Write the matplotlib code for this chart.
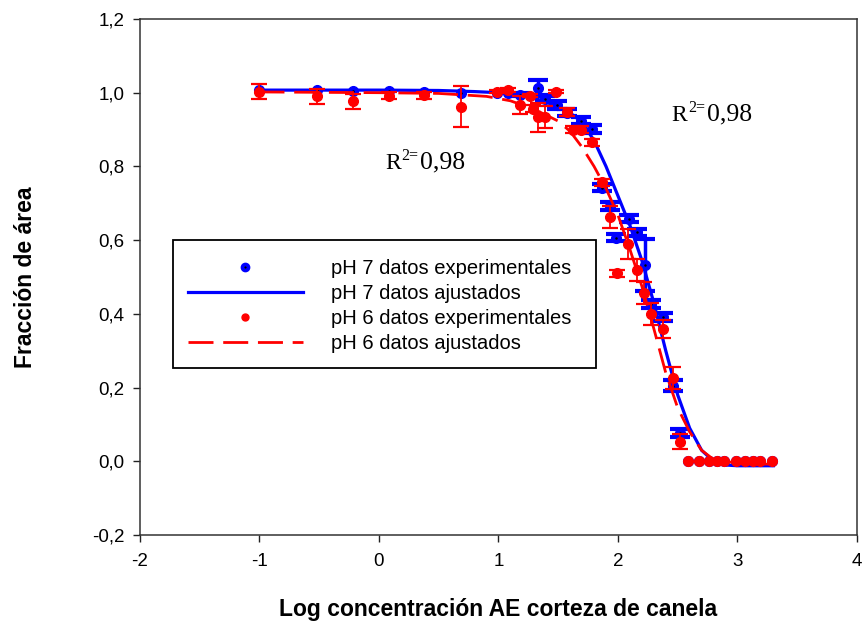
import matplotlib
matplotlib.use("Agg")
import matplotlib.pyplot as plt
from matplotlib.lines import Line2D
from matplotlib.patches import Rectangle
from matplotlib.legend_handler import HandlerTuple

plt.rcParams['font.family'] = ['Liberation Sans', 'DejaVu Sans']

# ---- data: pH 7 experimental ----
ph7_x = [-1.0, -0.52, -0.22, 0.08, 0.38, 0.69, 0.99, 1.08, 1.18, 1.33, 1.39, 1.49,
         1.57, 1.69, 1.78, 1.87, 1.93, 1.98, 2.09, 2.16, 2.23, 2.28, 2.38, 2.46, 2.52,
         2.59, 2.68, 2.76, 2.83, 2.89, 2.99, 3.06, 3.13, 3.19, 3.29]
ph7_y = [1.006, 1.006, 1.005, 1.005, 1.003, 1.0, 1.0, 1.0, 0.995, 1.014, 0.983, 0.967,
         0.946, 0.924, 0.902, 0.742, 0.693, 0.607, 0.658, 0.621, 0.533, 0.427, 0.392, 0.205, 0.077,
         0.0, 0.0, 0.0, 0.0, 0.0, 0.0, 0.0, 0.0, 0.0, 0.0]
ph7_err = [0.0, 0.0, 0.0, 0.0, 0.0, 0.0, 0.0, 0.0, 0.005, 0.02, 0.008, 0.01,
           0.01, 0.01, 0.01, 0.01, 0.01, 0.01, 0.01, 0.01, 0.07, 0.01, 0.01, 0.015, 0.01,
           0.0, 0.0, 0.0, 0.0, 0.0, 0.0, 0.0, 0.0, 0.0, 0.0]

# ---- data: pH 6 experimental ----
ph6_x = [-1.0, -0.52, -0.22, 0.08, 0.38, 0.69, 0.99, 1.08, 1.18, 1.26, 1.29, 1.33, 1.39,
         1.48, 1.57, 1.62, 1.69, 1.78, 1.87, 1.93, 1.99, 2.08, 2.16, 2.22, 2.28, 2.38, 2.46, 2.52,
         2.59, 2.68, 2.76, 2.83, 2.89, 2.99, 3.06, 3.13, 3.19, 3.29]
ph6_y = [1.003, 0.99, 0.977, 0.992, 0.993, 0.962, 1.003, 1.007, 0.967, 0.992, 0.957, 0.933, 0.933,
         1.003, 0.948, 0.90, 0.90, 0.865, 0.757, 0.662, 0.51, 0.59, 0.52, 0.457, 0.40, 0.359, 0.226, 0.053,
         0.0, 0.0, 0.0, 0.0, 0.0, 0.0, 0.0, 0.0, 0.0, 0.0]
ph6_err = [0.02, 0.02, 0.02, 0.01, 0.01, 0.055, 0.005, 0.005, 0.025, 0.005, 0.01, 0.04, 0.03,
           0.005, 0.01, 0.01, 0.01, 0.01, 0.01, 0.03, 0.01, 0.04, 0.03, 0.03, 0.03, 0.025, 0.03, 0.02,
           0.0, 0.0, 0.0, 0.0, 0.0, 0.0, 0.0, 0.0, 0.0, 0.0]

# ---- fitted curves ----
fit7_x = [-1.0, 0.0, 0.5, 0.8, 1.0, 1.2, 1.35, 1.5, 1.6, 1.7, 1.8, 1.9, 2.0, 2.1, 2.2,
          2.3, 2.4, 2.5, 2.6, 2.7, 2.8, 2.9, 3.0, 3.3]
fit7_y = [1.007, 1.007, 1.006, 1.003, 1.0, 0.993, 0.98, 0.962, 0.945, 0.92, 0.87, 0.80, 0.72, 0.64, 0.545,
          0.43, 0.30, 0.18, 0.09, 0.03, 0.0, -0.01, -0.012, -0.012]
fit6_x = [-1.0, 0.0, 0.5, 0.9, 1.1, 1.3, 1.5, 1.6, 1.7, 1.8, 1.9, 2.0, 2.1, 2.2, 2.3,
          2.4, 2.5, 2.6, 2.7, 2.8, 3.0, 3.3]
fit6_y = [1.002, 1.0, 0.998, 0.99, 0.978, 0.955, 0.923, 0.895, 0.852, 0.80, 0.74, 0.668, 0.575, 0.475, 0.36,
          0.24, 0.145, 0.08, 0.03, 0.005, -0.005, -0.008]

xticks = [-2, -1, 0, 1, 2, 3, 4]
yticks = [-0.2, 0.0, 0.2, 0.4, 0.6, 0.8, 1.0, 1.2]
ytick_labels = ['-0,2', '0,0', '0,2', '0,4', '0,6', '0,8', '1,0', '1,2']
legend_labels = ['pH 7 datos experimentales', 'pH 7 datos ajustados',
                 'pH 6 datos experimentales', 'pH 6 datos ajustados']
r2_text = '0,98'
r2_pos = [(0.05, 0.794), (2.45, 0.924)]

BLUE = '#0000ff'
RED = '#ff0000'

fig = plt.figure(figsize=(8.63, 6.28), dpi=100)
ax = fig.add_axes([0.1622, 0.148, 0.8308, 0.8218])

# pH 7
e7 = [(x, y, e) for x, y, e in zip(ph7_x, ph7_y, ph7_err) if e > 0]
ax.errorbar([a[0] for a in e7], [a[1] for a in e7], yerr=[a[2] for a in e7], fmt='none',
            ecolor=BLUE, elinewidth=2.5, capsize=7, capthick=3, zorder=2)
ax.plot(fit7_x, fit7_y, color=BLUE, lw=2.3, zorder=3)
ax.plot(ph7_x, ph7_y, 'o', color=BLUE, ms=7, mec=BLUE, zorder=4)
ax.plot(ph7_x, ph7_y, 'o', color='black', ms=1.8, mew=0, zorder=4.1)

# pH 6
e6 = [(x, y, e) for x, y, e in zip(ph6_x, ph6_y, ph6_err) if e > 0]
ax.errorbar([a[0] for a in e6], [a[1] for a in e6], yerr=[a[2] for a in e6], fmt='none',
            ecolor=RED, elinewidth=1.3, capsize=6, capthick=1.6, zorder=5)
ax.plot(fit6_x, fit6_y, color=RED, lw=2.0, dashes=(9, 3.5), zorder=6)
ax.plot(ph6_x, ph6_y, 'o', color=RED, ms=7, mec=RED, zorder=7)

ax.set_xlim(-2, 4)
ax.set_ylim(-0.2, 1.2)
ax.set_xticks(xticks)
ax.set_xticklabels([str(t) for t in xticks])
ax.set_yticks(yticks)
ax.set_yticklabels(ytick_labels)
ax.tick_params(direction='out', length=5, width=1, labelsize=13.5, colors='#222222',
               labelcolor='black', pad=6)
ax.tick_params(axis='x', pad=8)
for s in ax.spines.values():
    s.set_linewidth(1.1)
    s.set_color('#333333')

ax.set_xlabel('Log concentración AE corteza de canela', fontsize=16.5, fontweight='bold', labelpad=20)
ax.set_ylabel('Fracción de área', fontsize=16.5, fontweight='bold', labelpad=40)

for (tx, ty) in r2_pos:
    ax.annotate('R', xy=(tx, ty), xytext=(0, 0), textcoords='offset points',
                fontsize=17, family='Liberation Serif', va='baseline', ha='left')
    ax.annotate('2=', xy=(tx, ty), xytext=(12, 6.5), textcoords='offset points',
                fontsize=11.5, family='Liberation Serif', va='baseline', ha='left')
    ax.annotate(r2_text, xy=(tx, ty), xytext=(25.5, 0), textcoords='offset points',
                fontsize=18.5, family='Liberation Serif', va='baseline', ha='left')

# legend frame (box drawn separately for asymmetric padding)
frame = Rectangle((0.046, 0.3238), 0.590, 0.248, transform=ax.transAxes,
                  facecolor='white', edgecolor='black', lw=1.3, zorder=8)
ax.add_patch(frame)

h1 = (Line2D([], [], ls='none', marker='o', color=BLUE, ms=6),
      Line2D([], [], ls='none', marker='o', color='black', ms=1.6, mew=0))
h2 = Line2D([], [], color=BLUE, lw=2.3)
h3 = Line2D([], [], ls='none', marker='o', color=RED, ms=5)
h4 = Line2D([], [], color=RED, lw=2.0, dashes=(9, 3.5))
leg = ax.legend([h1, h2, h3, h4], legend_labels,
                handler_map={tuple: HandlerTuple(ndivide=1)},
                loc='upper left', bbox_to_anchor=(0.046, 0.565), borderaxespad=0,
                fontsize=14.5, handlelength=5.7, handletextpad=1.39, labelspacing=0.31,
                borderpad=0.75, frameon=False)
leg.set_zorder(9)

fig.savefig('out.png', dpi=100)
